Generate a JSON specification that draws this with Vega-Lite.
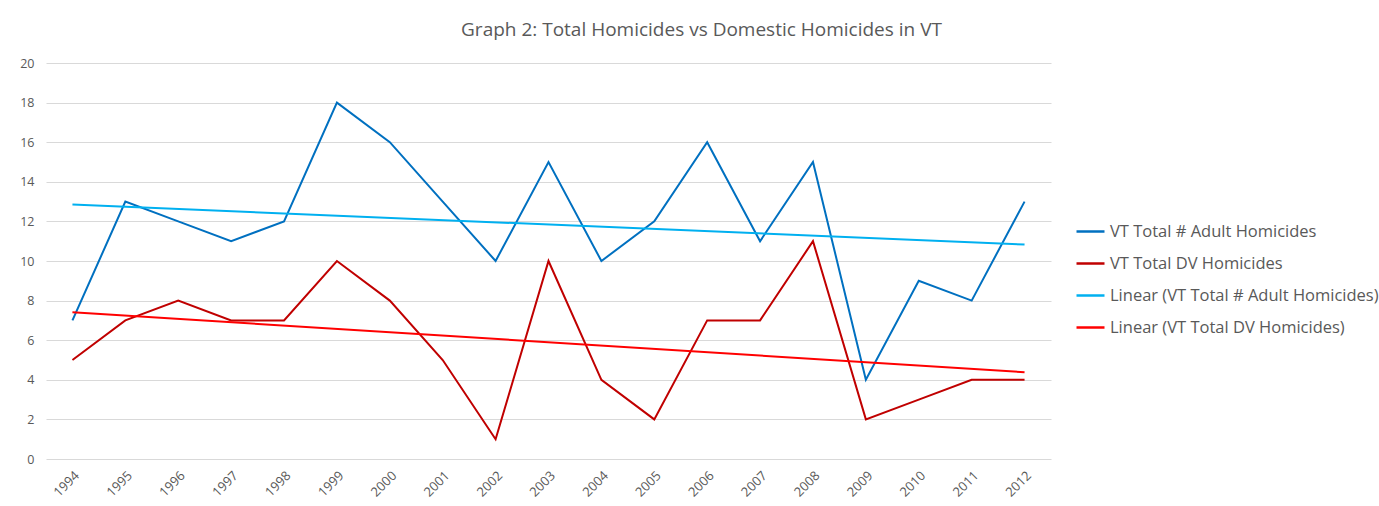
{
  "$schema": "https://vega.github.io/schema/vega-lite/v6.json",
  "width": 1005,
  "height": 396,
  "autosize": "none",
  "padding": {"left": 46, "top": 63, "right": 328, "bottom": 47},
  "background": "white",
  "title": {
    "text": "Graph 2: Total Homicides vs Domestic Homicides in VT",
    "anchor": "middle",
    "frame": "group",
    "dx": 153,
    "offset": 17,
    "font": "Open Sans",
    "fontSize": 19,
    "fontWeight": "normal",
    "color": "#595959"
  },
  "config": {
    "view": {"stroke": null},
    "font": "Open Sans"
  },
  "data": {
    "values": [
      {"year": "1994", "series": "VT Total # Adult Homicides", "value": 7},
      {"year": "1995", "series": "VT Total # Adult Homicides", "value": 13},
      {"year": "1996", "series": "VT Total # Adult Homicides", "value": 12},
      {"year": "1997", "series": "VT Total # Adult Homicides", "value": 11},
      {"year": "1998", "series": "VT Total # Adult Homicides", "value": 12},
      {"year": "1999", "series": "VT Total # Adult Homicides", "value": 18},
      {"year": "2000", "series": "VT Total # Adult Homicides", "value": 16},
      {"year": "2001", "series": "VT Total # Adult Homicides", "value": 13},
      {"year": "2002", "series": "VT Total # Adult Homicides", "value": 10},
      {"year": "2003", "series": "VT Total # Adult Homicides", "value": 15},
      {"year": "2004", "series": "VT Total # Adult Homicides", "value": 10},
      {"year": "2005", "series": "VT Total # Adult Homicides", "value": 12},
      {"year": "2006", "series": "VT Total # Adult Homicides", "value": 16},
      {"year": "2007", "series": "VT Total # Adult Homicides", "value": 11},
      {"year": "2008", "series": "VT Total # Adult Homicides", "value": 15},
      {"year": "2009", "series": "VT Total # Adult Homicides", "value": 4},
      {"year": "2010", "series": "VT Total # Adult Homicides", "value": 9},
      {"year": "2011", "series": "VT Total # Adult Homicides", "value": 8},
      {"year": "2012", "series": "VT Total # Adult Homicides", "value": 13},
      {"year": "1994", "series": "VT Total DV Homicides", "value": 5},
      {"year": "1995", "series": "VT Total DV Homicides", "value": 7},
      {"year": "1996", "series": "VT Total DV Homicides", "value": 8},
      {"year": "1997", "series": "VT Total DV Homicides", "value": 7},
      {"year": "1998", "series": "VT Total DV Homicides", "value": 7},
      {"year": "1999", "series": "VT Total DV Homicides", "value": 10},
      {"year": "2000", "series": "VT Total DV Homicides", "value": 8},
      {"year": "2001", "series": "VT Total DV Homicides", "value": 5},
      {"year": "2002", "series": "VT Total DV Homicides", "value": 1},
      {"year": "2003", "series": "VT Total DV Homicides", "value": 10},
      {"year": "2004", "series": "VT Total DV Homicides", "value": 4},
      {"year": "2005", "series": "VT Total DV Homicides", "value": 2},
      {"year": "2006", "series": "VT Total DV Homicides", "value": 7},
      {"year": "2007", "series": "VT Total DV Homicides", "value": 7},
      {"year": "2008", "series": "VT Total DV Homicides", "value": 11},
      {"year": "2009", "series": "VT Total DV Homicides", "value": 2},
      {"year": "2010", "series": "VT Total DV Homicides", "value": 3},
      {"year": "2011", "series": "VT Total DV Homicides", "value": 4},
      {"year": "2012", "series": "VT Total DV Homicides", "value": 4},
      {"year": "1994", "series": "Linear (VT Total # Adult Homicides)", "value": 12.85},
      {"year": "2012", "series": "Linear (VT Total # Adult Homicides)", "value": 10.83},
      {"year": "1994", "series": "Linear (VT Total DV Homicides)", "value": 7.41},
      {"year": "2012", "series": "Linear (VT Total DV Homicides)", "value": 4.38}
    ]
  },
  "mark": {"type": "line", "strokeWidth": 2},
  "encoding": {
    "x": {
      "field": "year",
      "type": "ordinal",
      "scale": {"type": "point", "padding": 0.5},
      "axis": {
        "title": null,
        "labelAngle": -45,
        "labelFontSize": 13,
        "labelColor": "#595959",
        "labelFont": "Open Sans",
        "ticks": false,
        "domain": false,
        "grid": false,
        "labelPadding": 10
      }
    },
    "y": {
      "field": "value",
      "type": "quantitative",
      "scale": {"domain": [0, 20]},
      "axis": {
        "title": null,
        "values": [0, 2, 4, 6, 8, 10, 12, 14, 16, 18, 20],
        "labelFontSize": 12.5,
        "labelColor": "#595959",
        "labelFont": "Open Sans",
        "ticks": false,
        "domain": false,
        "gridColor": "#d9d9d9",
        "gridWidth": 1,
        "labelPadding": 12
      }
    },
    "color": {
      "field": "series",
      "type": "nominal",
      "scale": {
        "domain": ["VT Total # Adult Homicides", "VT Total DV Homicides", "Linear (VT Total # Adult Homicides)", "Linear (VT Total DV Homicides)"],
        "range": ["#0070C0", "#C00000", "#00B0F0", "#FF0000"]
      },
      "legend": {
        "title": null,
        "orient": "none",
        "legendX": 1029,
        "legendY": 153,
        "symbolType": "stroke",
        "symbolSize": 784,
        "symbolStrokeWidth": 2.5,
        "labelFontSize": 16.5,
        "labelColor": "#595959",
        "labelFont": "Open Sans",
        "rowPadding": 8,
        "labelOffset": 4,
        "labelLimit": 400
      }
    }
  }
}
